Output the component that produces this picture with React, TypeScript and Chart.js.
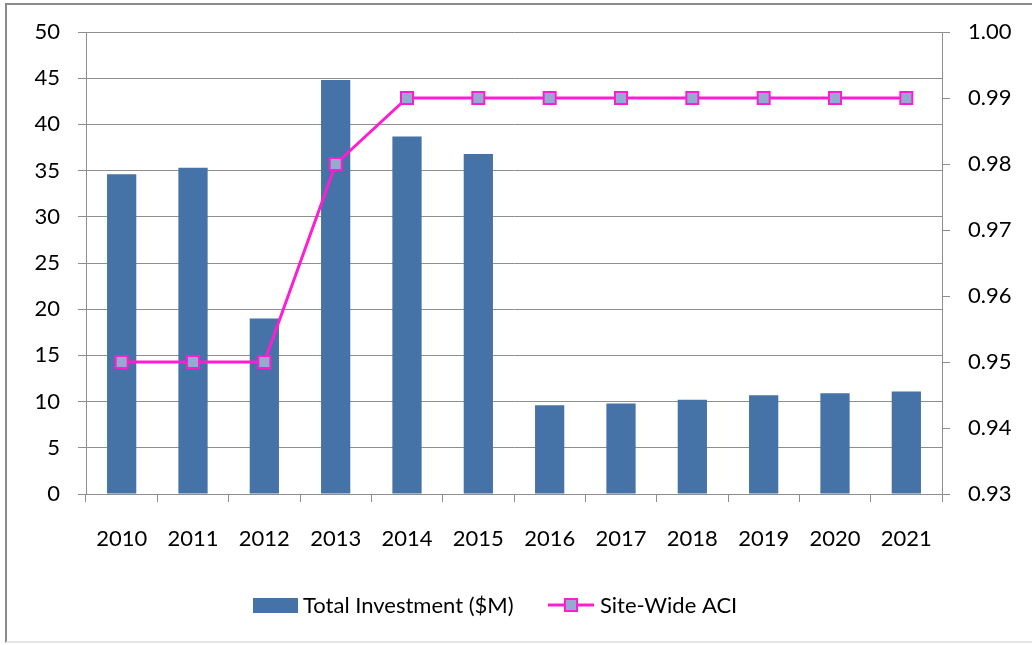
import React, { useEffect, useRef } from 'react';
import { Chart, registerables } from 'chart.js';

Chart.register(...registerables);

const years = ['2010', '2011', '2012', '2013', '2014', '2015', '2016', '2017', '2018', '2019', '2020', '2021'];
const investment = [34.6, 35.3, 19.0, 44.8, 38.7, 36.8, 9.6, 9.8, 10.2, 10.7, 10.9, 11.1];
const aci = [0.95, 0.95, 0.95, 0.98, 0.99, 0.99, 0.99, 0.99, 0.99, 0.99, 0.99, 0.99];
const leftTicks = [0, 5, 10, 15, 20, 25, 30, 35, 40, 45, 50];
const rightTicks = [0.93, 0.94, 0.95, 0.96, 0.97, 0.98, 0.99, 1.0];
const seriesNames = ['Total Investment ($M)', 'Site-Wide ACI'];

const FONT = 'Lato';
const FONT_SIZE = 22;
const GRID = '#8e8e8e';
const BAR = '#4572A7';
const LINE = '#FF1ECF';
const MARKER = '#96A9D0';

const legendPlugin = {
  id: 'customLegend',
  afterDraw(chart: any) {
    const ctx = chart.ctx as CanvasRenderingContext2D;
    ctx.save();
    ctx.font = `${FONT_SIZE}px ${FONT}`;
    ctx.fillStyle = '#000';
    ctx.textBaseline = 'alphabetic';
    ctx.textAlign = 'left';
    // bar item
    ctx.fillStyle = BAR;
    ctx.fillRect(253, 598, 45, 15);
    ctx.fillStyle = '#000';
    ctx.fillText(chart.data.datasets[0].label, 303, 613);
    // line item
    ctx.strokeStyle = LINE;
    ctx.lineWidth = 3;
    ctx.beginPath();
    ctx.moveTo(548, 605);
    ctx.lineTo(594, 605);
    ctx.stroke();
    ctx.fillStyle = MARKER;
    ctx.fillRect(565, 599, 12, 12);
    ctx.lineWidth = 2;
    ctx.strokeRect(565, 599, 12, 12);
    ctx.fillStyle = '#000';
    ctx.fillText(chart.data.datasets[1].label, 600, 613);
    ctx.restore();
  },
};

export default function App() {
  const ref = useRef<HTMLCanvasElement | null>(null);

  useEffect(() => {
    if (!ref.current) return;
    const font = { family: FONT, size: FONT_SIZE };
    const chart = new Chart(ref.current, {
      type: 'bar',
      data: {
        labels: years,
        datasets: [
          {
            type: 'bar',
            label: seriesNames[0],
            data: investment,
            backgroundColor: BAR,
            borderWidth: 0,
            barPercentage: 0.41,
            categoryPercentage: 1,
            yAxisID: 'y',
            order: 1,
          } as any,
          {
            type: 'line',
            label: seriesNames[1],
            data: aci,
            borderColor: LINE,
            borderWidth: 3,
            pointStyle: 'rect',
            pointRadius: 8.5,
            pointBackgroundColor: MARKER,
            pointBorderColor: LINE,
            pointBorderWidth: 2,
            tension: 0,
            yAxisID: 'y1',
            order: 0,
          } as any,
        ],
      },
      options: {
        responsive: false,
        animation: false,
        layout: { padding: { top: 32, left: 0, right: 0, bottom: 0 } },
        plugins: {
          legend: { display: false },
          tooltip: { enabled: false },
        },
        scales: {
          x: {
            type: 'category',
            offset: true,
            grid: { offset: true, drawOnChartArea: false, drawTicks: true, tickLength: 8, color: GRID, lineWidth: 1 },
            border: { display: true, color: GRID, width: 1 },
            ticks: { font, color: '#000', padding: 24, maxRotation: 0, autoSkip: false },
            afterFit: (s: any) => { s.height = 151; },
          },
          y: {
            position: 'left',
            min: 0,
            max: 50,
            afterBuildTicks: (s: any) => { s.ticks = leftTicks.map((v) => ({ value: v })); },
            grid: { drawOnChartArea: true, drawTicks: true, tickLength: 8, color: GRID, lineWidth: 1 },
            border: { display: true, color: GRID, width: 1 },
            ticks: { font, color: '#000', padding: 18 },
            afterFit: (s: any) => { s.width = 86; },
          },
          y1: {
            position: 'right',
            min: 0.93,
            max: 1.0,
            afterBuildTicks: (s: any) => { s.ticks = rightTicks.map((v) => ({ value: v })); },
            grid: { drawOnChartArea: false, drawTicks: true, tickLength: 8, color: GRID, lineWidth: 1 },
            border: { display: true, color: GRID, width: 1 },
            ticks: { font, color: '#000', padding: 18, callback: (v: any) => Number(v).toFixed(2) },
            afterFit: (s: any) => { s.width = 90; },
          },
        },
      },
      plugins: [legendPlugin],
    });
    return () => chart.destroy();
  }, []);

  return (
    <div style={{ position: 'absolute', left: 0, top: 0, width: 1032, height: 645, overflow: 'hidden', background: '#fff' }}>
      <div
        style={{
          position: 'absolute',
          left: 5,
          top: 3,
          width: 1100,
          height: 636,
          borderLeft: '2px solid #8a8a8a',
          borderTop: '2px solid #8a8a8a',
          borderBottom: '2px solid #e6e6e6',
        }}
      />
      <canvas ref={ref} width={1032} height={645} style={{ position: 'absolute', left: 0, top: 0, width: 1032, height: 645 }} />
    </div>
  );
}
